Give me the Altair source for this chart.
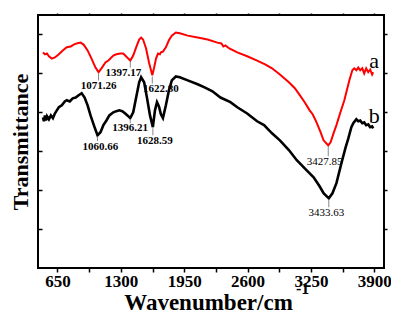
import altair as alt
import pandas as pd

# ---- data ----
red_wn = [501, 521, 542, 562, 592, 623, 664, 704, 745, 786, 816, 847, 887, 918, 959, 999, 1040,
          1071.26, 1101, 1142, 1172, 1223, 1254, 1294, 1325, 1345, 1376, 1397.17, 1427, 1457, 1488,
          1508, 1528, 1559, 1589, 1622.8, 1640, 1661, 1681, 1701, 1711, 1732, 1762, 1793, 1823,
          1864, 1905, 1986, 2088, 2190, 2291, 2332, 2352, 2373, 2413, 2495, 2596, 2698, 2780,
          2851, 2932, 3024, 3085, 3136, 3186, 3237, 3268, 3308, 3349, 3380, 3427.85, 3452, 3482,
          3512, 3553, 3593, 3624, 3644, 3675, 3695, 3716, 3736, 3756, 3777, 3797, 3817, 3838,
          3858, 3878, 3889]
red_t = [5.54, 5.49, 5.51, 5.44, 5.38, 5.41, 5.49, 5.59, 5.67, 5.69, 5.74, 5.77, 5.79, 5.74, 5.59,
         5.38, 5.15, 5.03, 5.13, 5.28, 5.33, 5.46, 5.49, 5.51, 5.51, 5.46, 5.38, 5.33, 5.46, 5.67,
         5.87, 5.92, 5.87, 5.64, 5.28, 4.95, 5.13, 5.38, 5.51, 5.49, 5.54, 5.56, 5.67, 5.85, 5.97,
         6.05, 6.03, 5.97, 5.92, 5.87, 5.79, 5.77, 5.69, 5.72, 5.64, 5.54, 5.44, 5.33, 5.23, 5.13,
         4.97, 4.77, 4.62, 4.44, 4.26, 4.05, 3.95, 3.74, 3.49, 3.28, 3.15, 3.23, 3.46, 3.67, 4.0,
         4.31, 4.62, 4.82, 5.08, 5.13, 5.08, 5.15, 5.08, 5.13, 5.0, 5.13, 5.03, 5.10, 4.97, 5.03]

black_wn = [501, 511, 521, 531, 542, 562, 582, 603, 623, 643, 664, 694, 725, 745, 776, 806, 837,
            867, 898, 928, 959, 989, 1030, 1060.66, 1091, 1121, 1152, 1182, 1223, 1254, 1284,
            1315, 1345, 1376, 1396.21, 1427, 1457, 1488, 1508, 1539, 1569, 1599, 1628.59, 1650,
            1671, 1691, 1711, 1732, 1762, 1793, 1823, 1864, 1905, 1986, 2088, 2159, 2240, 2322,
            2424, 2495, 2596, 2698, 2769, 2851, 2932, 3024, 3105, 3207, 3278, 3339, 3380,
            3433.63, 3471, 3512, 3563, 3604, 3634, 3665, 3685, 3716, 3736, 3756, 3777, 3797,
            3817, 3838, 3858, 3878, 3889]
black_t = [3.87, 3.77, 3.92, 3.79, 3.90, 3.82, 3.92, 3.85, 3.97, 4.05, 4.13, 4.18, 4.28, 4.31,
           4.28, 4.36, 4.38, 4.44, 4.49, 4.38, 4.18, 3.92, 3.62, 3.41, 3.49, 3.67, 3.79, 3.92,
           4.0, 4.03, 4.05, 4.03, 3.97, 3.90, 3.85, 4.0, 4.38, 4.77, 4.90, 4.77, 4.36, 3.92,
           3.62, 4.05, 4.26, 4.15, 3.95, 3.85, 4.18, 4.56, 4.82, 4.92, 4.90, 4.82, 4.72, 4.64,
           4.54, 4.38, 4.26, 4.13, 3.97, 3.77, 3.67, 3.46, 3.28, 3.03, 2.77, 2.51, 2.33, 2.10,
           1.92, 1.79, 1.92, 2.18, 2.69, 3.08, 3.33, 3.62, 3.72, 3.82, 3.77, 3.79, 3.72, 3.74,
           3.67, 3.69, 3.62, 3.64, 3.59]

# peak annotations: label text, label position, leader line
peak_text = ["1071.26", "1397.17", "1622.80", "1060.66", "1396.21", "1628.59", "3427.85", "3433.63"]
peak_wn = [1071.26, 1397.17, 1622.80, 1060.66, 1396.21, 1628.59, 3427.85, 3433.63]
peak_top = [5.00, 5.30, 4.92, 3.38, 3.83, 3.59, 3.12, 1.76]
peak_bottom = [4.82, 5.15, 4.74, 3.26, 3.72, 3.41, 2.87, 1.56]
label_wn = [1071, 1325, 1711, 1091, 1396, 1650, 3390, 3410]
label_t = [4.67, 5.00, 4.59, 3.10, 3.59, 3.26, 2.72, 1.41]
label_bold = [True, True, True, True, True, True, False, False]

curve_names = ["a", "b"]
curve_label_wn = [3899, 3899]
curve_label_t = [5.15, 3.72]

x_ticks = [650, 975, 1300, 1625, 1950, 2275, 2600, 2925, 3250, 3575, 3900]
y_ticks = [1, 2, 3, 4, 5, 6]

FONT = "Liberation Serif"

red_df = pd.DataFrame({"wn": red_wn, "t": red_t})
black_df = pd.DataFrame({"wn": black_wn, "t": black_t})
peaks_df = pd.DataFrame({"text": peak_text, "wn": peak_wn, "top": peak_top, "bottom": peak_bottom,
                         "lwn": label_wn, "lt": label_t, "bold": label_bold})
names_df = pd.DataFrame({"name": curve_names, "wn": curve_label_wn, "t": curve_label_t})
sup_df = pd.DataFrame({"s": ["-1"]})

xscale = alt.Scale(domain=[450, 4000], nice=False, zero=False)
yscale = alt.Scale(domain=[0, 6.5], nice=False, zero=False)

x_bottom = alt.X("wn:Q", scale=xscale, axis=alt.Axis(
    values=x_ticks, orient="bottom", domain=False, grid=False, tickSize=4, tickWidth=1.5,
    tickColor="black", labelFont=FONT, labelFontSize=17, labelFontWeight="bold",
    labelColor="black", labelPadding=1, labelFlush=False, labelOverlap=False,
    labelExpr="datum.value % 650 == 0 ? datum.label : ''", format="d",
    title="Wavenumber/cm", titleFont=FONT, titleFontSize=23, titleFontWeight="bold",
    titleColor="black", titleX=170, titleY=41, titleAlign="center",
    titleBaseline="alphabetic"))
y_left = alt.Y("t:Q", scale=yscale, axis=alt.Axis(
    values=y_ticks, orient="left", domain=False, grid=False, labels=False, tickSize=4,
    tickWidth=1.5, tickColor="black", offset=-4,
    title="Transmittance", titleFont=FONT, titleFontSize=22, titleFontWeight="bold",
    titleColor="black", titleX=-22, titleY=126.5, titleAngle=-90, titleAlign="center",
    titleBaseline="middle"))

x_top = alt.X("wn:Q", scale=xscale, axis=alt.Axis(
    values=x_ticks, orient="top", domain=False, grid=False, labels=False, tickSize=2,
    tickWidth=1.5, tickColor="black", title=None))
y_right = alt.Y("t:Q", scale=yscale, axis=alt.Axis(
    values=y_ticks, orient="right", domain=False, grid=False, labels=False, tickSize=3,
    tickWidth=1.5, tickColor="black", title=None))

red_line = alt.Chart(red_df).mark_line(color="#ff0000", strokeWidth=2).encode(x=x_bottom, y=y_left)
black_line = alt.Chart(black_df).mark_line(color="black", strokeWidth=2.6).encode(x=x_top, y=y_right)

leaders = alt.Chart(peaks_df).mark_rule(color="#888888", strokeWidth=1).encode(
    x=alt.X("wn:Q", scale=xscale, axis=None), y=alt.Y("top:Q", scale=yscale, axis=None),
    y2="bottom:Q")

labels_bold = alt.Chart(peaks_df).transform_filter("datum.bold").mark_text(
    font=FONT, fontSize=11, fontWeight="bold", color="black", baseline="middle", align="center"
).encode(x=alt.X("lwn:Q", scale=xscale, axis=None), y=alt.Y("lt:Q", scale=yscale, axis=None),
         text="text:N")
labels_reg = alt.Chart(peaks_df).transform_filter("!datum.bold").mark_text(
    font=FONT, fontSize=11, color="black", baseline="middle", align="center"
).encode(x=alt.X("lwn:Q", scale=xscale, axis=None), y=alt.Y("lt:Q", scale=yscale, axis=None),
         text="text:N")

names = alt.Chart(names_df).mark_text(
    font=FONT, fontSize=22, color="black", baseline="alphabetic", align="center"
).encode(x=alt.X("wn:Q", scale=xscale, axis=None), y=alt.Y("t:Q", scale=yscale, axis=None),
         text="name:N")

sup = alt.Chart(sup_df).mark_text(
    font=FONT, fontSize=16, fontWeight="bold", color="black", baseline="alphabetic", align="left"
).encode(x=alt.value(258), y=alt.value(279), text="s:N")

chart = alt.layer(red_line, black_line, leaders, labels_bold, labels_reg, names, sup).resolve_axis(
    x="independent", y="independent"
).properties(
    width=346, height=253,
    autosize=alt.AutoSizeParams(type="none"),
    padding={"left": 30, "top": 7, "right": 7, "bottom": 46},
    background="white",
).configure_view(stroke="black", strokeWidth=2)

chart.save("out.html", embed_options={"renderer": "svg", "actions": False})
